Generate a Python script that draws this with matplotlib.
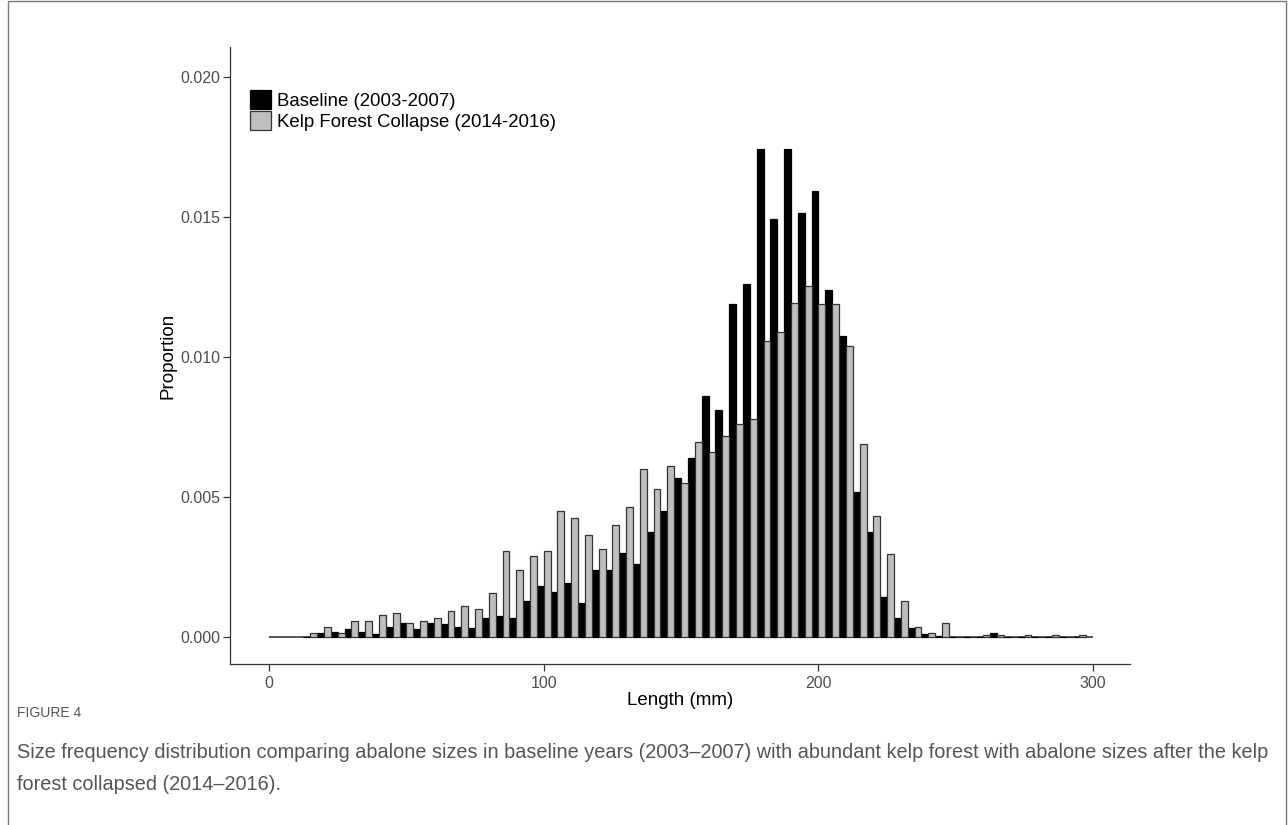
import matplotlib
matplotlib.use("Agg")
import matplotlib.pyplot as plt
from matplotlib.patches import Patch, Rectangle
import numpy as np

# ---- data (proportion per 5 mm bin, bins centred on multiples of 5 mm) ----
bin_centers = list(range(15, 300, 5))
baseline = [0, 0.00013, 0.0002, 0.0003, 0.00017, 0.0001, 0.00035, 0.0005, 0.0003, 0.0005,
            0.00046, 0.00037, 0.00033, 0.00067, 0.00074, 0.0007, 0.0013, 0.00182, 0.0016, 0.00193,
            0.00123, 0.0024, 0.0024, 0.003, 0.0026, 0.00375, 0.00451, 0.00569, 0.00638, 0.0086,
            0.0081, 0.0119, 0.0126, 0.01744, 0.01493, 0.01744, 0.01515, 0.01592, 0.0124, 0.01074,
            0.00519, 0.00375, 0.00142, 0.00069, 0.00031, 0.0001, 0.00004, 0, 0, 0,
            0.00014, 0, 0, 0, 0, 0, 0]
collapse = [0.00013, 0.00036, 0.00013, 0.00056, 0.00056, 0.0008, 0.00086, 0.00049, 0.00056, 0.0007,
            0.00093, 0.0011, 0.00099, 0.00158, 0.00306, 0.0024, 0.0029, 0.00306, 0.0045, 0.00427,
            0.00364, 0.00313, 0.004, 0.00463, 0.006, 0.00529, 0.0061, 0.00552, 0.00696, 0.0066,
            0.00718, 0.0076, 0.0078, 0.01058, 0.01088, 0.01194, 0.01255, 0.01188, 0.0119, 0.0104,
            0.00689, 0.00433, 0.00295, 0.00129, 0.00036, 0.00014, 0.0005, 0, 0, 0.00007,
            0.00007, 0, 0.00007, 0, 0.00007, 0, 0.00007]
series_labels = ["Baseline (2003-2007)", "Kelp Forest Collapse (2014-2016)"]
x_ticks = [0, 100, 200, 300]
y_ticks = [0.000, 0.005, 0.010, 0.015, 0.020]
caption_head = "FIGURE 4"
caption_line1 = ("Size frequency distribution comparing abalone sizes in baseline years (2003\u20132007) "
                 "with abundant kelp forest with abalone sizes after the kelp")
caption_line2 = "forest collapsed (2014\u20132016)."

plt.rcParams['font.family'] = ['Liberation Sans', 'DejaVu Sans']

W, H = 1288, 825
fig = plt.figure(figsize=(W / 100, H / 100), dpi=100)
fig.patch.set_facecolor('white')

# outer frame
fig.patches.append(Rectangle((8 / W, -0.01), (1286 - 8) / W, 1.01 - 1 / H, transform=fig.transFigure,
                             fill=False, edgecolor='#777777', linewidth=1.0))

left, right, top, bottom = 230, 1130, 47, 664
ax = fig.add_axes([left / W, (H - bottom) / H, (right - left) / W, (bottom - top) / H])

centers = np.array(bin_centers, dtype=float)
bw = 5.0
ax.hlines(0, 0, 300, color='#555555', linewidth=1.4, zorder=1)
ax.bar(centers - bw / 4, baseline, width=bw / 2, color='black', edgecolor='black', linewidth=0.9, zorder=2)
ax.bar(centers + bw / 4, collapse, width=bw / 2, color='#bebebe', edgecolor='#333333', linewidth=0.9, zorder=2)

ax.set_xlim(-14.2, 313.4)
ax.set_ylim(-0.00096, 0.02107)
ax.set_xticks(x_ticks)
ax.set_yticks(y_ticks)
ax.set_yticklabels([f"{v:.3f}" for v in y_ticks])
for s in ['top', 'right']:
    ax.spines[s].set_visible(False)
for s in ['left', 'bottom']:
    ax.spines[s].set_color('#333333')
    ax.spines[s].set_linewidth(0.9)
ax.tick_params(axis='both', colors='#333333', labelcolor='#4d4d4d', labelsize=11.5, length=5, width=0.9)
ax.tick_params(axis='x', pad=3.5)
ax.tick_params(axis='y', pad=2)
ax.set_xlabel("Length (mm)", fontsize=13.5, color='black', labelpad=1)
ax.set_ylabel("Proportion", fontsize=13.5, color='black', labelpad=3)

handles = [Patch(facecolor='black', edgecolor='black', linewidth=0.9),
           Patch(facecolor='#bebebe', edgecolor='#333333', linewidth=0.9)]
ax.legend(handles, series_labels, loc='upper left', bbox_to_anchor=(0.022, 0.930), frameon=False,
          fontsize=13.4, borderpad=0, borderaxespad=0, handlelength=1.15, handleheight=1.15,
          handletextpad=0.3, labelspacing=0.08)

fig.text(17 / W, 1 - 713 / H, caption_head, fontsize=10, color='#555555', va='center', ha='left')
fig.text(17 / W, 1 - 752 / H, caption_line1, fontsize=14.3, color='#555555', va='center', ha='left')
fig.text(17 / W, 1 - 784 / H, caption_line2, fontsize=14.3, color='#555555', va='center', ha='left')

fig.savefig("out.png", dpi=100)
